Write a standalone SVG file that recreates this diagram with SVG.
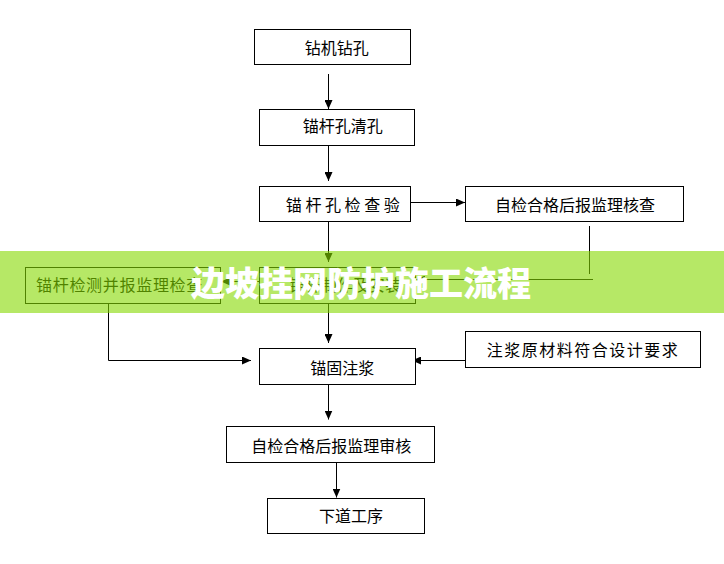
<svg xmlns="http://www.w3.org/2000/svg" width="724" height="564" viewBox="0 0 724 564">
<defs>
<marker id="ah" markerUnits="userSpaceOnUse" markerWidth="9" markerHeight="8" refX="9" refY="4" orient="auto"><path d="M0,0 L9,4 L0,8 z" fill="#000"/></marker>
<style>
.box{fill:#fff;stroke:#000;stroke-width:1}
.t{font-family:"Noto Sans CJK SC","Noto Sans",sans-serif;font-size:16px;fill:#000;text-anchor:middle}
.c{fill:none;stroke:#000;stroke-width:1;marker-end:url(#ah)}
.cl{fill:none;stroke:#000;stroke-width:1}
.title{font-family:"Noto Sans CJK SC","Noto Sans",sans-serif;font-size:34px;font-weight:900;fill:#fff;text-anchor:middle}
</style>
</defs>
<rect width="724" height="564" fill="#fff"/>
<g id="connectors">
<path class="c" d="M328.5,74 V109"/>
<path class="c" d="M328.5,145.5 V181"/>
<path class="c" d="M410.5,202.5 H465"/>
<path class="c" d="M328.5,221.5 V262"/>
<path class="cl" d="M589.5,226 V274"/>
<path class="c" d="M593,279.5 H416"/>
<path class="c" d="M259.5,281.5 H221"/>
<path class="c" d="M328.5,303.5 V343"/>
<path class="c" d="M108.5,303.5 V360.5 H251"/>
<path class="c" d="M465,360.5 H412"/>
<path class="c" d="M328.5,384.5 V419.5"/>
<path class="c" d="M336.5,462.5 V497.5"/>
</g>
<g id="n1"><rect class="box" x="254.5" y="29.5" width="156" height="35"/><text class="t" x="336.7" y="54">钻机钻孔</text></g>
<g id="n2"><rect class="box" x="259.5" y="109.5" width="155" height="36"/><text class="t" x="342.7" y="132">锚杆孔清孔</text></g>
<g id="n3"><rect class="box" x="259.5" y="186.5" width="151" height="35"/><text class="t" x="342.8" y="211">锚 杆 孔 检 查 验</text></g>
<g id="n4"><rect class="box" x="465.5" y="186.5" width="218" height="35"/><text class="t" x="575" y="211">自检合格后报监理核查</text></g>
<g id="n5"><rect class="box" x="259.5" y="267.5" width="156" height="36"/><text class="t" x="345" y="291">锚杆制作及安装</text></g>
<g id="n6"><rect class="box" x="25.5" y="267.5" width="195" height="36"/><text class="t" x="36" y="290.5" style="text-anchor:start;letter-spacing:0.7px">锚杆检测并报监理检查</text></g>
<g id="n7"><rect class="box" x="259.5" y="348.5" width="156" height="36"/><text class="t" x="342.3" y="374">锚固注浆</text></g>
<g id="n8"><rect class="box" x="465.5" y="331.5" width="235" height="36"/><text class="t" x="583" y="356" style="letter-spacing:1.5px">注浆原材料符合设计要求</text></g>
<g id="n9"><rect class="box" x="226.5" y="426.5" width="208" height="36"/><text class="t" x="331.3" y="451.5">自检合格后报监理审核</text></g>
<g id="n10"><rect class="box" x="267.5" y="498.5" width="157" height="35"/><text class="t" x="351" y="522">下道工序</text></g>
<g id="banner">
<rect x="0" y="251" width="724" height="62" fill="#86d900" fill-opacity="0.6"/>
<text class="title" x="361" y="296">边坡挂网防护施工流程</text>
</g>
</svg>
